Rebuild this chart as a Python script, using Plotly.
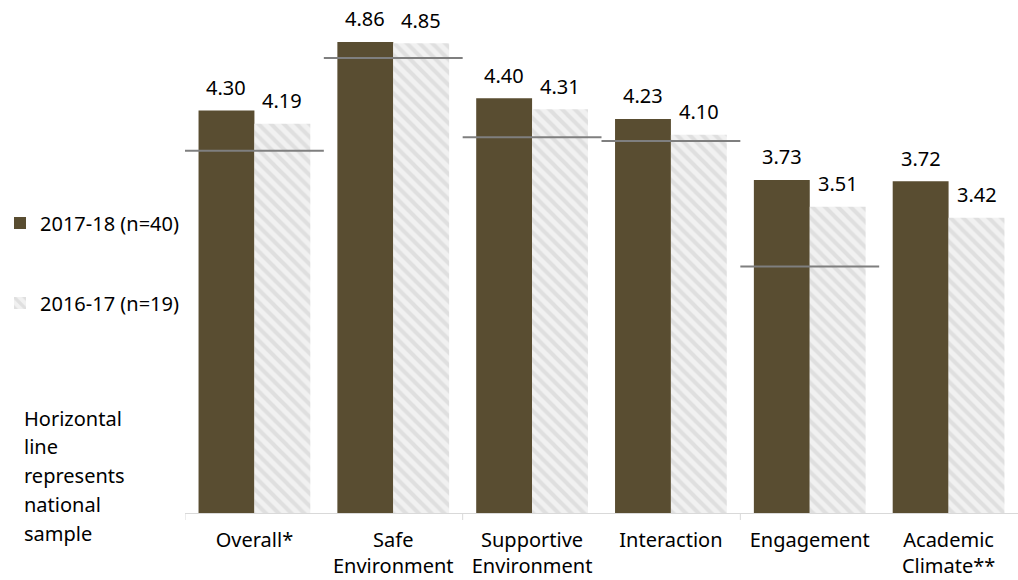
import plotly.graph_objects as go

# Survey domain scores by school year, with the national sample mean per domain
categories = ["Overall*", "Safe<br>Environment", "Supportive<br>Environment",
              "Interaction", "Engagement", "Academic<br>Climate**"]
scores_2017_18 = [4.30, 4.86, 4.40, 4.23, 3.73, 3.72]
scores_2016_17 = [4.19, 4.85, 4.31, 4.10, 3.51, 3.42]
national_sample = [3.97, 4.73, 4.08, 4.05, 3.02, None]
series_names = ["2017-18 (n=40)", "2016-17 (n=19)"]
note_lines = ["Horizontal", "line", "represents", "national", "sample"]

FONT = "Noto Sans"
DARK = "#594d31"
W, H = 1018, 580
ML, MR, MT, MB = 183, 0, 25, 67
Y_MIN, Y_MAX = 1, 5
BARGAP = 0.195
plot_w = W - ML - MR
plot_h = H - MT - MB


def paper_x(px):
    return (px - ML) / plot_w


def paper_y(py):
    return (H - MB - py) / plot_h


fig = go.Figure()
fig.add_trace(go.Bar(
    x=categories, y=scores_2017_18, name=series_names[0], legend="legend",
    showlegend=True,
    marker=dict(color=DARK, line=dict(width=0)),
))
fig.add_trace(go.Bar(
    x=categories, y=scores_2016_17, name=series_names[1], legend="legend2",
    showlegend=True,
    marker=dict(color="#f0f0f0", line=dict(width=0),
                pattern=dict(shape="\\", fgcolor="#cecece", bgcolor="#f1f1f1",
                             size=9, solidity=0.45)),
))

annotations = []
offset = (1 - BARGAP) / 4
for i in range(len(categories)):
    for vals, dx in ((scores_2017_18, -offset), (scores_2016_17, offset)):
        annotations.append(dict(
            x=i + dx, y=vals[i], xref="x", yref="y", text=f"{vals[i]:.2f}",
            showarrow=False, yanchor="bottom", xanchor="center", yshift=7.6,
            font=dict(family=FONT, size=20, color="#000000"),
        ))

# note on the left, one annotation per line to keep the wide line spacing
first_baseline, step = 426, 28.7
for k, line in enumerate(note_lines):
    baseline = first_baseline + k * step
    annotations.append(dict(
        x=paper_x(20), y=paper_y(baseline - 7.8), xref="paper", yref="paper",
        text=line, showarrow=False, xanchor="left", yanchor="middle",
        font=dict(family=FONT, size=20, color="#000000"),
    ))

shapes = []
for i, v in enumerate(national_sample):
    if v is None:
        continue
    shapes.append(dict(type="line", xref="x", yref="y", x0=i - 0.5, x1=i + 0.5,
                       y0=v, y1=v, line=dict(color="#7f7f7f", width=2),
                       layer="above"))

# axis tick marks at every second category boundary
for b in (-0.5, 1.5, 3.5):
    shapes.append(dict(type="line", xref="x", yref="paper", ysizemode="pixel",
                       yanchor=0, x0=b, x1=b, y0=0, y1=-7,
                       line=dict(color="#d9d9d9", width=1)))

legend_common = dict(xanchor="left", yanchor="middle", bgcolor="rgba(0,0,0,0)",
                     font=dict(family=FONT, size=20, color="#000000"),
                     itemclick=False, itemdoubleclick=False, visible=True)

fig.update_layout(
    width=W, height=H,
    margin=dict(l=ML, r=MR, t=MT, b=MB),
    paper_bgcolor="white", plot_bgcolor="white",
    barmode="group", bargap=BARGAP, bargroupgap=0,
    showlegend=True,
    font=dict(family=FONT, size=20, color="#000000"),
    xaxis=dict(type="category", showgrid=False, zeroline=False,
               showline=True, linecolor="#d9d9d9", linewidth=1,
               ticks="", ticklabelstandoff=9,
               tickfont=dict(family=FONT, size=20, color="#000000"),
               range=[-0.5, len(categories) - 0.5]),
    yaxis=dict(range=[Y_MIN, Y_MAX], visible=False, showgrid=False,
               zeroline=False),
    legend=dict(x=paper_x(-3), y=paper_y(223), **legend_common),
    legend2=dict(x=paper_x(-3), y=paper_y(303), **legend_common),
    annotations=annotations,
    shapes=shapes,
)

fig.write_html("out.html")
